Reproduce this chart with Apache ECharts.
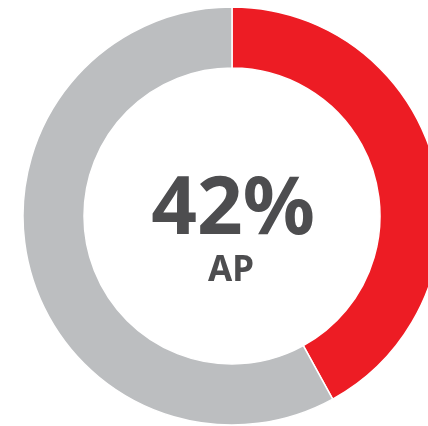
<!DOCTYPE html>
<html>
<head>
<meta charset="utf-8">
<script src="https://cdn.jsdelivr.net/npm/echarts@6/dist/echarts.min.js"></script>
<style>
  html, body { margin: 0; padding: 0; background: #fff; }
  #main { width: 428px; height: 426px; }
</style>
</head>
<body>
<div id="main"></div>
<script>
// 数据
var names = ['AP', 'Other'];
var values = [42, 58];
var colors = ['#ED1C24', '#BCBEC0'];
var centerValue = '42%';
var centerLabel = 'AP';

var chart = echarts.init(document.getElementById('main'));

chart.setOption({
    animation: false,
    series: [{
        type: 'pie',
        center: [232, 216],
        radius: [148, 209],
        startAngle: 90,
        clockwise: true,
        label: { show: false },
        labelLine: { show: false },
        emphasis: { disabled: true },
        itemStyle: { borderColor: '#fff', borderWidth: 1.5 },
        data: names.map(function (n, i) {
            return { name: n, value: values[i], itemStyle: { color: colors[i] } };
        })
    }],
    graphic: [{
        type: 'text',
        x: 233, y: 211,
        style: {
            text: centerValue,
            font: '700 80px "Noto Sans"',
            fill: '#4D4D4F',
            textAlign: 'center',
            textVerticalAlign: 'middle'
        }
    }, {
        type: 'text',
        x: 231, y: 271,
        style: {
            text: centerLabel,
            font: '700 35px "Noto Sans"',
            fill: '#4D4D4F',
            textAlign: 'center',
            textVerticalAlign: 'middle'
        }
    }]
});
</script>
</body>
</html>
